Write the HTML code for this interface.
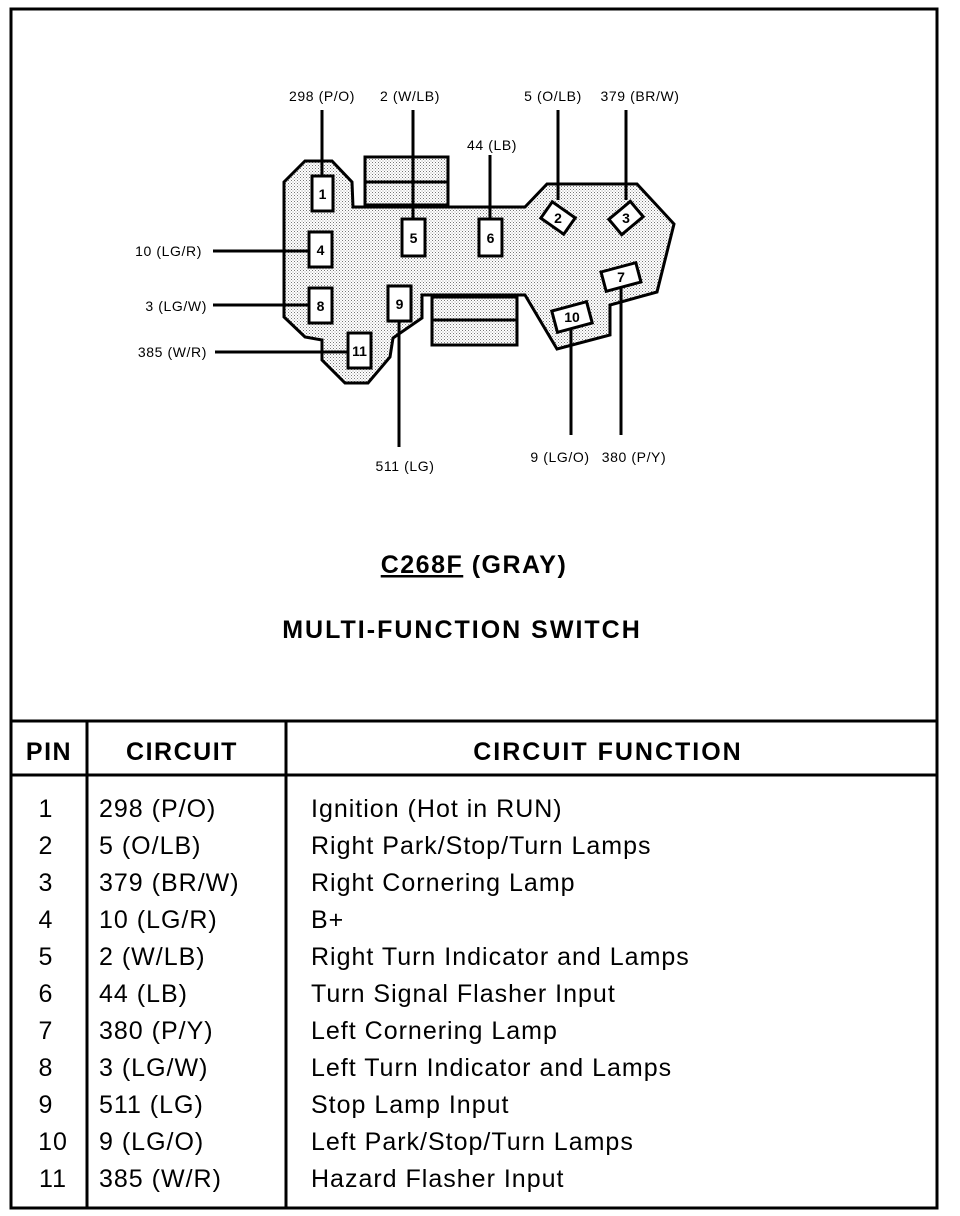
<!DOCTYPE html>
<html><head><meta charset="utf-8"><style>
html,body{margin:0;padding:0;background:#fff;}
svg{display:block;}
text{font-family:"Liberation Sans",Arial,sans-serif;fill:#000;}
</style></head><body>
<svg width="960" height="1216" viewBox="0 0 960 1216" xmlns="http://www.w3.org/2000/svg">
<defs>
<pattern id="dots" width="3" height="3" patternUnits="userSpaceOnUse">
<rect width="3" height="3" fill="#fff"/><rect width="1" height="1" fill="#777"/><rect x="1.5" y="1.5" width="1" height="1" fill="#999"/>
</pattern>
</defs>
<rect x="11" y="9" width="926" height="1199" fill="none" stroke="#000" stroke-width="3"/>
<line x1="11" y1="721" x2="937" y2="721" stroke="#000" stroke-width="3"/>
<line x1="11" y1="775" x2="937" y2="775" stroke="#000" stroke-width="3"/>
<line x1="87" y1="721" x2="87" y2="1208" stroke="#000" stroke-width="3"/>
<line x1="286" y1="721" x2="286" y2="1208" stroke="#000" stroke-width="3"/>

<g stroke="#000" stroke-width="3" stroke-linejoin="miter">
<rect x="365" y="157" width="83" height="48" fill="url(#dots)"/>
<line x1="365" y1="182" x2="448" y2="182"/>
<rect x="432" y="297" width="85" height="48" fill="url(#dots)"/>
<line x1="432" y1="320" x2="517" y2="320"/>
<polygon fill="url(#dots)" points="284,182 305,161 332,161 352,182 353,207 525,207 547,184 637,184 674,224 657,292 610,305 610,335 557,349 525,295 422,295 422,318 393,338 390,357 368,383 345,383 322,360 322,340 305,337 284,317"/>
</g>
<g stroke="#000" stroke-width="3">
<line x1="322" y1="110" x2="322" y2="176"/>
<line x1="413" y1="110" x2="413" y2="219"/>
<line x1="490" y1="155" x2="490" y2="219"/>
<line x1="558" y1="110" x2="558" y2="200"/>
<line x1="626" y1="110" x2="626" y2="200"/>
<line x1="213" y1="251" x2="309" y2="251"/>
<line x1="213" y1="305" x2="309" y2="305"/>
<line x1="215" y1="352" x2="348" y2="352"/>
<line x1="399" y1="321" x2="399" y2="447"/>
<line x1="571" y1="328" x2="571" y2="435"/>
<line x1="621" y1="288" x2="621" y2="435"/>
</g>
<g stroke="#000" stroke-width="3" fill="#fff">
<rect x="312" y="176" width="21" height="35"/>
<rect x="309" y="232" width="23" height="35"/>
<rect x="309" y="288" width="23" height="35"/>
<rect x="348" y="333" width="23" height="35"/>
<rect x="402" y="219" width="23" height="37"/>
<rect x="479" y="219" width="23" height="37"/>
<rect x="388" y="286" width="23" height="35"/>
<rect x="544" y="208" width="28" height="20" transform="rotate(35 558 218)"/>
<rect x="612" y="208" width="28" height="20" transform="rotate(-40 626 218)"/>
<rect x="603" y="267" width="36" height="20" transform="rotate(-15 621 277)"/>
<rect x="554" y="306" width="36" height="22" transform="rotate(-15 572 317)"/>
</g>
<g font-size="14" font-weight="bold" text-anchor="middle">
<text x="322.5" y="199">1</text>
<text x="320.5" y="255">4</text>
<text x="320.5" y="311">8</text>
<text x="359.5" y="356">11</text>
<text x="413.5" y="243">5</text>
<text x="490.5" y="243">6</text>
<text x="399.5" y="309">9</text>
<text x="558" y="223">2</text>
<text x="626" y="223">3</text>
<text x="621" y="282">7</text>
<text x="572" y="322">10</text>
</g>
<g font-size="14" letter-spacing="0.6">
<text x="322" y="101" text-anchor="middle">298 (P/O)</text>
<text x="410" y="101" text-anchor="middle">2 (W/LB)</text>
<text x="553" y="101" text-anchor="middle">5 (O/LB)</text>
<text x="640" y="101" text-anchor="middle">379 (BR/W)</text>
<text x="492" y="150" text-anchor="middle">44 (LB)</text>
<text x="202" y="256" text-anchor="end">10 (LG/R)</text>
<text x="207" y="311" text-anchor="end">3 (LG/W)</text>
<text x="207" y="357" text-anchor="end">385 (W/R)</text>
<text x="405" y="471" text-anchor="middle">511 (LG)</text>
<text x="560" y="462" text-anchor="middle">9 (LG/O)</text>
<text x="634" y="462" text-anchor="middle">380 (P/Y)</text>
</g>
<g font-size="25" font-weight="bold" text-anchor="middle" letter-spacing="1.5">
<text x="474" y="573"><tspan text-decoration="underline">C268F</tspan> (GRAY)</text>
<text x="462" y="638" letter-spacing="2">MULTI-FUNCTION SWITCH</text>
<text x="49" y="760">PIN</text>
<text x="182" y="760">CIRCUIT</text>
<text x="608" y="760" letter-spacing="2">CIRCUIT FUNCTION</text>
</g>
<g font-size="25" letter-spacing="1">
<g text-anchor="middle">
<text x="46" y="817">1</text><text x="46" y="854">2</text><text x="46" y="891">3</text><text x="46" y="928">4</text><text x="46" y="965">5</text><text x="46" y="1002">6</text><text x="46" y="1039">7</text><text x="46" y="1076">8</text><text x="46" y="1113">9</text><text x="53" y="1150">10</text><text x="53" y="1187">11</text>
</g>
<text x="99" y="817">298 (P/O)</text><text x="99" y="854">5 (O/LB)</text><text x="99" y="891">379 (BR/W)</text><text x="99" y="928">10 (LG/R)</text><text x="99" y="965">2 (W/LB)</text><text x="99" y="1002">44 (LB)</text><text x="99" y="1039">380 (P/Y)</text><text x="99" y="1076">3 (LG/W)</text><text x="99" y="1113">511 (LG)</text><text x="99" y="1150">9 (LG/O)</text><text x="99" y="1187">385 (W/R)</text>
<text x="311" y="817">Ignition (Hot in RUN)</text>
<text x="311" y="854">Right Park/Stop/Turn Lamps</text>
<text x="311" y="891">Right Cornering Lamp</text>
<text x="311" y="928">B+</text>
<text x="311" y="965">Right Turn Indicator and Lamps</text>
<text x="311" y="1002">Turn Signal Flasher Input</text>
<text x="311" y="1039">Left Cornering Lamp</text>
<text x="311" y="1076">Left Turn Indicator and Lamps</text>
<text x="311" y="1113">Stop Lamp Input</text>
<text x="311" y="1150">Left Park/Stop/Turn Lamps</text>
<text x="311" y="1187">Hazard Flasher Input</text>
</g>
</svg>
</body></html>
